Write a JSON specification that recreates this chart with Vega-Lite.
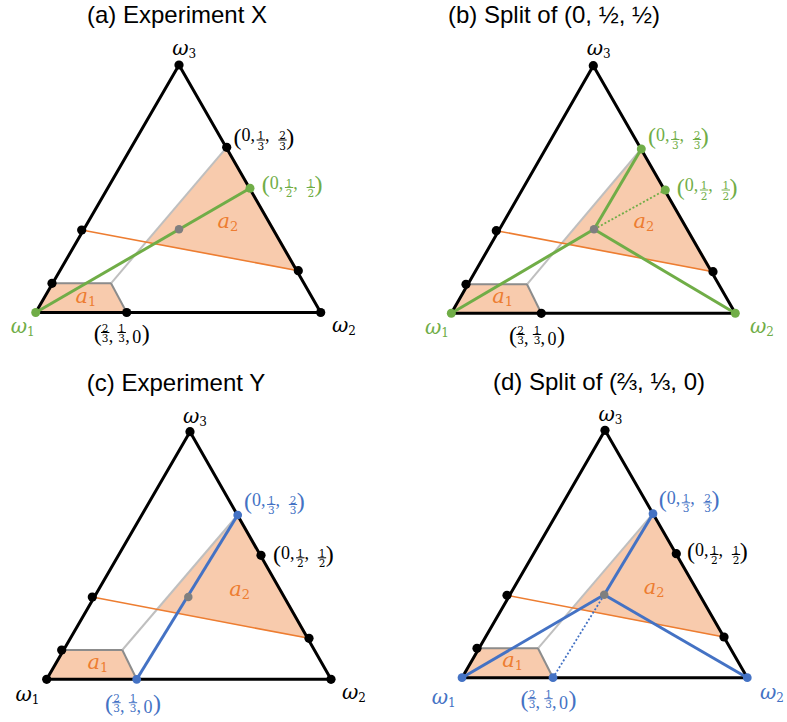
{
  "$schema": "https://vega.github.io/schema/vega-lite/v6.json",
  "width": 787,
  "height": 722,
  "autosize": {"type": "fit", "contains": "padding"},
  "padding": 0,
  "background": "white",
  "config": {"view": {"stroke": null}},
  "datasets": {
    "polys": [
      {"shape": "a1a", "i": 1, "x": 35.7, "y": 312.5},
      {"shape": "a1a", "i": 2, "x": 52.7, "y": 283.3},
      {"shape": "a1a", "i": 3, "x": 111, "y": 283.3},
      {"shape": "a1a", "i": 4, "x": 126.7, "y": 312.5},
      {"shape": "a2a", "i": 1, "x": 226.7, "y": 147.3},
      {"shape": "a2a", "i": 2, "x": 298.3, "y": 270.7},
      {"shape": "a2a", "i": 3, "x": 146.1, "y": 242.1},
      {"shape": "a1b", "i": 1, "x": 451.3, "y": 313.3},
      {"shape": "a1b", "i": 2, "x": 466.5, "y": 284.3},
      {"shape": "a1b", "i": 3, "x": 527, "y": 284.3},
      {"shape": "a1b", "i": 4, "x": 541.3, "y": 313.3},
      {"shape": "a2b", "i": 1, "x": 641.3, "y": 149},
      {"shape": "a2b", "i": 2, "x": 713, "y": 271.7},
      {"shape": "a2b", "i": 3, "x": 561.8, "y": 243.1},
      {"shape": "a1c", "i": 1, "x": 46.7, "y": 679.3},
      {"shape": "a1c", "i": 2, "x": 62.5, "y": 650},
      {"shape": "a1c", "i": 3, "x": 122.3, "y": 650},
      {"shape": "a1c", "i": 4, "x": 136.7, "y": 679.3},
      {"shape": "a2c", "i": 1, "x": 237.7, "y": 515},
      {"shape": "a2c", "i": 2, "x": 309, "y": 638.3},
      {"shape": "a2c", "i": 3, "x": 157.1, "y": 609.3},
      {"shape": "a1d", "i": 1, "x": 462, "y": 677.7},
      {"shape": "a1d", "i": 2, "x": 477.5, "y": 648.3},
      {"shape": "a1d", "i": 3, "x": 538, "y": 648.3},
      {"shape": "a1d", "i": 4, "x": 553, "y": 677.7},
      {"shape": "a2d", "i": 1, "x": 653, "y": 513.7},
      {"shape": "a2d", "i": 2, "x": 724, "y": 637},
      {"shape": "a2d", "i": 3, "x": 572.5, "y": 607.9}
    ],
    "segs": [
      {"kind": "gray2", "x": 52.7, "y": 283.3, "x2": 111, "y2": 283.3},
      {"kind": "gray2", "x": 111, "y": 283.3, "x2": 126.7, "y2": 312.5},
      {"kind": "gray1", "x": 111, "y": 283.3, "x2": 226.7, "y2": 147.3},
      {"kind": "orange", "x": 81.7, "y": 230, "x2": 298.3, "y2": 270.7},
      {"kind": "tri", "x": 35.7, "y": 312.5, "x2": 320.7, "y2": 312.5},
      {"kind": "tri", "x": 320.7, "y": 312.5, "x2": 179, "y2": 65},
      {"kind": "tri", "x": 179, "y": 65, "x2": 35.7, "y2": 312.5},
      {"kind": "green", "x": 35.7, "y": 312.5, "x2": 250, "y2": 188.3},

      {"kind": "gray2", "x": 466.5, "y": 284.3, "x2": 527, "y2": 284.3},
      {"kind": "gray2", "x": 527, "y": 284.3, "x2": 541.3, "y2": 313.3},
      {"kind": "gray1", "x": 527, "y": 284.3, "x2": 641.3, "y2": 149},
      {"kind": "orange", "x": 496.3, "y": 230.7, "x2": 713, "y2": 271.7},
      {"kind": "tri", "x": 451.3, "y": 313.3, "x2": 735.3, "y2": 313.3},
      {"kind": "tri", "x": 735.3, "y": 313.3, "x2": 593.3, "y2": 65.7},
      {"kind": "tri", "x": 593.3, "y": 65.7, "x2": 451.3, "y2": 313.3},
      {"kind": "green", "x": 451.3, "y": 313.3, "x2": 594, "y2": 229.3},
      {"kind": "green", "x": 735.3, "y": 313.3, "x2": 594, "y2": 229.3},
      {"kind": "green", "x": 594, "y": 229.3, "x2": 641.3, "y2": 149},
      {"kind": "greendot", "x": 594, "y": 229.3, "x2": 665.3, "y2": 190},

      {"kind": "gray2", "x": 62.5, "y": 650, "x2": 122.3, "y2": 650},
      {"kind": "gray2", "x": 122.3, "y": 650, "x2": 136.7, "y2": 679.3},
      {"kind": "gray1", "x": 122.3, "y": 650, "x2": 237.7, "y2": 515},
      {"kind": "orange", "x": 92.3, "y": 597, "x2": 309, "y2": 638.3},
      {"kind": "tri", "x": 46.7, "y": 679.3, "x2": 331, "y2": 679.3},
      {"kind": "tri", "x": 331, "y": 679.3, "x2": 190, "y2": 431.7},
      {"kind": "tri", "x": 190, "y": 431.7, "x2": 46.7, "y2": 679.3},
      {"kind": "blue", "x": 136.7, "y": 679.3, "x2": 237.7, "y2": 515},

      {"kind": "gray2", "x": 477.5, "y": 648.3, "x2": 538, "y2": 648.3},
      {"kind": "gray2", "x": 538, "y": 648.3, "x2": 553, "y2": 677.7},
      {"kind": "gray1", "x": 538, "y": 648.3, "x2": 653, "y2": 513.7},
      {"kind": "orange", "x": 507, "y": 595.3, "x2": 724, "y2": 637},
      {"kind": "tri", "x": 462, "y": 677.7, "x2": 747.3, "y2": 677.7},
      {"kind": "tri", "x": 747.3, "y": 677.7, "x2": 605, "y2": 430.3},
      {"kind": "tri", "x": 605, "y": 430.3, "x2": 462, "y2": 677.7},
      {"kind": "blue", "x": 462, "y": 677.7, "x2": 604.2, "y2": 594.8},
      {"kind": "blue", "x": 747.3, "y": 677.7, "x2": 604.2, "y2": 594.8},
      {"kind": "blue", "x": 604.2, "y": 594.8, "x2": 653, "y2": 513.7},
      {"kind": "bluedot", "x": 604.2, "y": 594.8, "x2": 553, "y2": 677.7}
    ],
    "bars": [
      {"col": "k", "x": 256.6, "x2": 265, "y": 140},
      {"col": "k", "x": 278.3, "x2": 286.7, "y": 140},
      {"col": "g", "x": 284.9, "x2": 293.3, "y": 187.5},
      {"col": "g", "x": 306.6, "x2": 315, "y": 187.5},
      {"col": "k", "x": 101, "x2": 109.4, "y": 332.5},
      {"col": "k", "x": 117.5, "x2": 125.9, "y": 332.5},
      {"col": "g", "x": 671.1, "x2": 679.5, "y": 139.5},
      {"col": "g", "x": 692.8, "x2": 701.2, "y": 139.5},
      {"col": "g", "x": 699.9, "x2": 708.3, "y": 190},
      {"col": "g", "x": 721.6, "x2": 730, "y": 190},
      {"col": "k", "x": 516.3, "x2": 524.7, "y": 334.5},
      {"col": "k", "x": 532.8, "x2": 541.2, "y": 334.5},
      {"col": "b", "x": 267.1, "x2": 275.5, "y": 504.5},
      {"col": "b", "x": 288.8, "x2": 297.2, "y": 504.5},
      {"col": "k", "x": 296.1, "x2": 304.5, "y": 557.8},
      {"col": "k", "x": 317.8, "x2": 326.2, "y": 557.8},
      {"col": "b", "x": 112.3, "x2": 120.7, "y": 702.7},
      {"col": "b", "x": 128.8, "x2": 137.2, "y": 702.7},
      {"col": "b", "x": 681.8, "x2": 690.2, "y": 502.8},
      {"col": "b", "x": 703.5, "x2": 711.9, "y": 502.8},
      {"col": "k", "x": 710.1, "x2": 718.5, "y": 554.5},
      {"col": "k", "x": 731.8, "x2": 740.2, "y": 554.5},
      {"col": "b", "x": 527.8, "x2": 536.2, "y": 698.7},
      {"col": "b", "x": 544.3, "x2": 552.7, "y": 698.7}
    ],
    "pts": [
      {"col": "k", "x": 179, "y": 65},
      {"col": "k", "x": 320.7, "y": 312.5},
      {"col": "g", "x": 35.7, "y": 312.5},
      {"col": "k", "x": 226.7, "y": 147.3},
      {"col": "g", "x": 250, "y": 188.3},
      {"col": "gr", "x": 179, "y": 229.3},
      {"col": "k", "x": 81.7, "y": 230},
      {"col": "k", "x": 298.3, "y": 270.7},
      {"col": "k", "x": 52, "y": 283.3},
      {"col": "k", "x": 126.7, "y": 312.5},

      {"col": "k", "x": 593.3, "y": 65.7},
      {"col": "g", "x": 451.3, "y": 313.3},
      {"col": "g", "x": 735.3, "y": 313.3},
      {"col": "g", "x": 641.3, "y": 149},
      {"col": "g", "x": 665.3, "y": 190},
      {"col": "gr", "x": 594, "y": 229.3},
      {"col": "k", "x": 496.3, "y": 230.7},
      {"col": "k", "x": 713, "y": 271.7},
      {"col": "k", "x": 466, "y": 284.3},
      {"col": "k", "x": 541.3, "y": 313.3},

      {"col": "k", "x": 190, "y": 431.7},
      {"col": "k", "x": 46.7, "y": 679.3},
      {"col": "k", "x": 331, "y": 679.3},
      {"col": "b", "x": 237.7, "y": 515},
      {"col": "k", "x": 261, "y": 555.3},
      {"col": "gr", "x": 188.3, "y": 597},
      {"col": "k", "x": 92.3, "y": 597},
      {"col": "k", "x": 309, "y": 638.3},
      {"col": "k", "x": 61.7, "y": 650},
      {"col": "b", "x": 136.7, "y": 679.3},

      {"col": "k", "x": 605, "y": 430.3},
      {"col": "b", "x": 462, "y": 677.7},
      {"col": "b", "x": 747.3, "y": 677.7},
      {"col": "b", "x": 653, "y": 513.7},
      {"col": "k", "x": 676.3, "y": 553.7},
      {"col": "gr", "x": 604.2, "y": 594.8},
      {"col": "k", "x": 507, "y": 595.3},
      {"col": "k", "x": 724, "y": 637},
      {"col": "k", "x": 477, "y": 648.3},
      {"col": "b", "x": 553, "y": 677.7}
    ],
    "labels": [
      {"kind": "title", "col": "k", "x": 177, "y": 22.5, "text": "(a) Experiment X"},
      {"kind": "title", "col": "k", "x": 554, "y": 22.5, "text": "(b) Split of (0, ½, ½)"},
      {"kind": "title", "col": "k", "x": 176, "y": 390.5, "text": "(c) Experiment Y"},
      {"kind": "title", "col": "k", "x": 599, "y": 389.5, "text": "(d) Split of (⅔, ⅓, 0)"},

      {"kind": "omega", "col": "k", "x": 188.5, "y": 54.5, "text": "ω"},
      {"kind": "osub", "col": "k", "x": 188.5, "y": 57.5, "text": "3"},
      {"kind": "omega", "col": "g", "x": 27, "y": 333, "text": "ω"},
      {"kind": "osub", "col": "g", "x": 27, "y": 336, "text": "1"},
      {"kind": "omega", "col": "k", "x": 348.3, "y": 331.7, "text": "ω"},
      {"kind": "osub", "col": "k", "x": 348.3, "y": 334.7, "text": "2"},
      {"kind": "omega", "col": "k", "x": 603, "y": 55, "text": "ω"},
      {"kind": "osub", "col": "k", "x": 603, "y": 58, "text": "3"},
      {"kind": "omega", "col": "g", "x": 441.3, "y": 334, "text": "ω"},
      {"kind": "osub", "col": "g", "x": 441.3, "y": 337, "text": "1"},
      {"kind": "omega", "col": "g", "x": 766.3, "y": 333, "text": "ω"},
      {"kind": "osub", "col": "g", "x": 766.3, "y": 336, "text": "2"},
      {"kind": "omega", "col": "k", "x": 199.3, "y": 422.7, "text": "ω"},
      {"kind": "osub", "col": "k", "x": 199.3, "y": 425.7, "text": "3"},
      {"kind": "omega", "col": "k", "x": 31.7, "y": 701, "text": "ω"},
      {"kind": "osub", "col": "k", "x": 31.7, "y": 704, "text": "1"},
      {"kind": "omega", "col": "k", "x": 358.3, "y": 699.3, "text": "ω"},
      {"kind": "osub", "col": "k", "x": 358.3, "y": 702.3, "text": "2"},
      {"kind": "omega", "col": "k", "x": 614.7, "y": 421, "text": "ω"},
      {"kind": "osub", "col": "k", "x": 614.7, "y": 424, "text": "3"},
      {"kind": "omega", "col": "b", "x": 448, "y": 704, "text": "ω"},
      {"kind": "osub", "col": "b", "x": 448, "y": 707, "text": "1"},
      {"kind": "omega", "col": "b", "x": 776.3, "y": 699, "text": "ω"},
      {"kind": "osub", "col": "b", "x": 776.3, "y": 702, "text": "2"},

      {"kind": "paren", "col": "k", "x": 237.5, "y": 144.5, "text": "("},
      {"kind": "mainL", "col": "k", "x": 241.5, "y": 141, "text": "0,"},
      {"kind": "frac", "col": "k", "x": 260.8, "y": 139, "text": "1\n3"},
      {"kind": "mainC", "col": "k", "x": 267.3, "y": 141, "text": ","},
      {"kind": "frac", "col": "k", "x": 282.5, "y": 139, "text": "2\n3"},
      {"kind": "paren", "col": "k", "x": 290.2, "y": 144.5, "text": ")"},

      {"kind": "paren", "col": "g", "x": 265.8, "y": 192, "text": "("},
      {"kind": "mainL", "col": "g", "x": 269.8, "y": 188.5, "text": "0,"},
      {"kind": "frac", "col": "g", "x": 289.1, "y": 186.5, "text": "1\n2"},
      {"kind": "mainC", "col": "g", "x": 295.6, "y": 188.5, "text": ","},
      {"kind": "frac", "col": "g", "x": 310.8, "y": 186.5, "text": "1\n2"},
      {"kind": "paren", "col": "g", "x": 318.5, "y": 192, "text": ")"},

      {"kind": "paren", "col": "k", "x": 97.7, "y": 340.5, "text": "("},
      {"kind": "frac", "col": "k", "x": 105.2, "y": 331.5, "text": "2\n3"},
      {"kind": "mainC", "col": "k", "x": 110.9, "y": 342, "text": ","},
      {"kind": "frac", "col": "k", "x": 121.7, "y": 331.5, "text": "1\n3"},
      {"kind": "mainC", "col": "k", "x": 127.5, "y": 342, "text": ","},
      {"kind": "mainC", "col": "k", "x": 136.7, "y": 342.5, "text": "0"},
      {"kind": "paren", "col": "k", "x": 145.8, "y": 340.5, "text": ")"},

      {"kind": "paren", "col": "g", "x": 652, "y": 144, "text": "("},
      {"kind": "mainL", "col": "g", "x": 656, "y": 140.5, "text": "0,"},
      {"kind": "frac", "col": "g", "x": 675.3, "y": 138.5, "text": "1\n3"},
      {"kind": "mainC", "col": "g", "x": 681.8, "y": 140.5, "text": ","},
      {"kind": "frac", "col": "g", "x": 697, "y": 138.5, "text": "2\n3"},
      {"kind": "paren", "col": "g", "x": 704.7, "y": 144, "text": ")"},

      {"kind": "paren", "col": "g", "x": 680.8, "y": 194.5, "text": "("},
      {"kind": "mainL", "col": "g", "x": 684.8, "y": 191, "text": "0,"},
      {"kind": "frac", "col": "g", "x": 704.1, "y": 189, "text": "1\n2"},
      {"kind": "mainC", "col": "g", "x": 710.6, "y": 191, "text": ","},
      {"kind": "frac", "col": "g", "x": 725.8, "y": 189, "text": "1\n2"},
      {"kind": "paren", "col": "g", "x": 733.5, "y": 194.5, "text": ")"},

      {"kind": "paren", "col": "k", "x": 513, "y": 342.5, "text": "("},
      {"kind": "frac", "col": "k", "x": 520.5, "y": 333.5, "text": "2\n3"},
      {"kind": "mainC", "col": "k", "x": 526.2, "y": 344, "text": ","},
      {"kind": "frac", "col": "k", "x": 537, "y": 333.5, "text": "1\n3"},
      {"kind": "mainC", "col": "k", "x": 542.8, "y": 344, "text": ","},
      {"kind": "mainC", "col": "k", "x": 552, "y": 344.5, "text": "0"},
      {"kind": "paren", "col": "k", "x": 561.1, "y": 342.5, "text": ")"},

      {"kind": "paren", "col": "b", "x": 248, "y": 509, "text": "("},
      {"kind": "mainL", "col": "b", "x": 252, "y": 505.5, "text": "0,"},
      {"kind": "frac", "col": "b", "x": 271.3, "y": 503.5, "text": "1\n3"},
      {"kind": "mainC", "col": "b", "x": 277.8, "y": 505.5, "text": ","},
      {"kind": "frac", "col": "b", "x": 293, "y": 503.5, "text": "2\n3"},
      {"kind": "paren", "col": "b", "x": 300.7, "y": 509, "text": ")"},

      {"kind": "paren", "col": "k", "x": 277, "y": 562.3, "text": "("},
      {"kind": "mainL", "col": "k", "x": 281, "y": 558.8, "text": "0,"},
      {"kind": "frac", "col": "k", "x": 300.3, "y": 556.8, "text": "1\n2"},
      {"kind": "mainC", "col": "k", "x": 306.8, "y": 558.8, "text": ","},
      {"kind": "frac", "col": "k", "x": 322, "y": 556.8, "text": "1\n2"},
      {"kind": "paren", "col": "k", "x": 329.7, "y": 562.3, "text": ")"},

      {"kind": "paren", "col": "b", "x": 109, "y": 710.7, "text": "("},
      {"kind": "frac", "col": "b", "x": 116.5, "y": 701.7, "text": "2\n3"},
      {"kind": "mainC", "col": "b", "x": 122.2, "y": 712.2, "text": ","},
      {"kind": "frac", "col": "b", "x": 133, "y": 701.7, "text": "1\n3"},
      {"kind": "mainC", "col": "b", "x": 138.8, "y": 712.2, "text": ","},
      {"kind": "mainC", "col": "b", "x": 148, "y": 712.7, "text": "0"},
      {"kind": "paren", "col": "b", "x": 157.1, "y": 710.7, "text": ")"},

      {"kind": "paren", "col": "b", "x": 662.7, "y": 507.3, "text": "("},
      {"kind": "mainL", "col": "b", "x": 666.7, "y": 503.8, "text": "0,"},
      {"kind": "frac", "col": "b", "x": 686, "y": 501.8, "text": "1\n3"},
      {"kind": "mainC", "col": "b", "x": 692.5, "y": 503.8, "text": ","},
      {"kind": "frac", "col": "b", "x": 707.7, "y": 501.8, "text": "2\n3"},
      {"kind": "paren", "col": "b", "x": 715.4, "y": 507.3, "text": ")"},

      {"kind": "paren", "col": "k", "x": 691, "y": 559, "text": "("},
      {"kind": "mainL", "col": "k", "x": 695, "y": 555.5, "text": "0,"},
      {"kind": "frac", "col": "k", "x": 714.3, "y": 553.5, "text": "1\n2"},
      {"kind": "mainC", "col": "k", "x": 720.8, "y": 555.5, "text": ","},
      {"kind": "frac", "col": "k", "x": 736, "y": 553.5, "text": "1\n2"},
      {"kind": "paren", "col": "k", "x": 743.7, "y": 559, "text": ")"},

      {"kind": "paren", "col": "b", "x": 524.5, "y": 706.7, "text": "("},
      {"kind": "frac", "col": "b", "x": 532, "y": 697.7, "text": "2\n3"},
      {"kind": "mainC", "col": "b", "x": 537.7, "y": 708.2, "text": ","},
      {"kind": "frac", "col": "b", "x": 548.5, "y": 697.7, "text": "1\n3"},
      {"kind": "mainC", "col": "b", "x": 554.3, "y": 708.2, "text": ","},
      {"kind": "mainC", "col": "b", "x": 563.5, "y": 708.7, "text": "0"},
      {"kind": "paren", "col": "b", "x": 572.6, "y": 706.7, "text": ")"},

      {"kind": "area", "col": "o", "x": 88, "y": 303, "text": "a"},
      {"kind": "asub", "col": "o", "x": 88, "y": 306, "text": "1"},
      {"kind": "area", "col": "o", "x": 230, "y": 228, "text": "a"},
      {"kind": "asub", "col": "o", "x": 230, "y": 231, "text": "2"},
      {"kind": "area", "col": "o", "x": 504.7, "y": 302.5, "text": "a"},
      {"kind": "asub", "col": "o", "x": 504.7, "y": 305.5, "text": "1"},
      {"kind": "area", "col": "o", "x": 646, "y": 228, "text": "a"},
      {"kind": "asub", "col": "o", "x": 646, "y": 231, "text": "2"},
      {"kind": "area", "col": "o", "x": 100, "y": 669, "text": "a"},
      {"kind": "asub", "col": "o", "x": 100, "y": 672, "text": "1"},
      {"kind": "area", "col": "o", "x": 241.7, "y": 596, "text": "a"},
      {"kind": "asub", "col": "o", "x": 241.7, "y": 599, "text": "2"},
      {"kind": "area", "col": "o", "x": 514.7, "y": 667, "text": "a"},
      {"kind": "asub", "col": "o", "x": 514.7, "y": 670, "text": "1"},
      {"kind": "area", "col": "o", "x": 656.3, "y": 594, "text": "a"},
      {"kind": "asub", "col": "o", "x": 656.3, "y": 597, "text": "2"}
    ]
  },
  "layer": [
    {
      "data": {"name": "polys"},
      "mark": {"type": "line", "fill": "#F8CBAD", "stroke": "#F8CBAD", "strokeWidth": 0.5},
      "encoding": {
        "x": {"field": "x", "type": "quantitative", "scale": {"domain": [0, 787], "nice": false, "zero": false}, "axis": null},
        "y": {"field": "y", "type": "quantitative", "scale": {"domain": [0, 722], "nice": false, "zero": false, "reverse": true}, "axis": null},
        "detail": {"field": "shape", "type": "nominal"},
        "order": {"field": "i", "type": "quantitative"}
      }
    },
    {
      "data": {"name": "segs"},
      "transform": [{"filter": "datum.kind === 'gray1'"}],
      "mark": {"type": "rule", "color": "#BFBFBF", "strokeWidth": 2},
      "encoding": {"x": {"field": "x", "type": "quantitative"}, "y": {"field": "y", "type": "quantitative"}, "x2": {"field": "x2"}, "y2": {"field": "y2"}}
    },
    {
      "data": {"name": "segs"},
      "transform": [{"filter": "datum.kind === 'gray2'"}],
      "mark": {"type": "rule", "color": "#8C8C8C", "strokeWidth": 2},
      "encoding": {"x": {"field": "x", "type": "quantitative"}, "y": {"field": "y", "type": "quantitative"}, "x2": {"field": "x2"}, "y2": {"field": "y2"}}
    },
    {
      "data": {"name": "segs"},
      "transform": [{"filter": "datum.kind === 'orange'"}],
      "mark": {"type": "rule", "color": "#ED7D31", "strokeWidth": 1.6},
      "encoding": {"x": {"field": "x", "type": "quantitative"}, "y": {"field": "y", "type": "quantitative"}, "x2": {"field": "x2"}, "y2": {"field": "y2"}}
    },
    {
      "data": {"name": "segs"},
      "transform": [{"filter": "datum.kind === 'tri'"}],
      "mark": {"type": "rule", "color": "#000000", "strokeWidth": 3, "strokeCap": "round"},
      "encoding": {"x": {"field": "x", "type": "quantitative"}, "y": {"field": "y", "type": "quantitative"}, "x2": {"field": "x2"}, "y2": {"field": "y2"}}
    },
    {
      "data": {"name": "segs"},
      "transform": [{"filter": "datum.kind === 'green'"}],
      "mark": {"type": "rule", "color": "#70AD47", "strokeWidth": 3},
      "encoding": {"x": {"field": "x", "type": "quantitative"}, "y": {"field": "y", "type": "quantitative"}, "x2": {"field": "x2"}, "y2": {"field": "y2"}}
    },
    {
      "data": {"name": "segs"},
      "transform": [{"filter": "datum.kind === 'greendot'"}],
      "mark": {"type": "rule", "color": "#70AD47", "strokeWidth": 1.8, "strokeDash": [2, 2]},
      "encoding": {"x": {"field": "x", "type": "quantitative"}, "y": {"field": "y", "type": "quantitative"}, "x2": {"field": "x2"}, "y2": {"field": "y2"}}
    },
    {
      "data": {"name": "segs"},
      "transform": [{"filter": "datum.kind === 'blue'"}],
      "mark": {"type": "rule", "color": "#4472C4", "strokeWidth": 3},
      "encoding": {"x": {"field": "x", "type": "quantitative"}, "y": {"field": "y", "type": "quantitative"}, "x2": {"field": "x2"}, "y2": {"field": "y2"}}
    },
    {
      "data": {"name": "segs"},
      "transform": [{"filter": "datum.kind === 'bluedot'"}],
      "mark": {"type": "rule", "color": "#4472C4", "strokeWidth": 1.8, "strokeDash": [2, 2]},
      "encoding": {"x": {"field": "x", "type": "quantitative"}, "y": {"field": "y", "type": "quantitative"}, "x2": {"field": "x2"}, "y2": {"field": "y2"}}
    },
    {
      "data": {"name": "pts"},
      "mark": {"type": "circle", "opacity": 1},
      "encoding": {
        "x": {"field": "x", "type": "quantitative"},
        "y": {"field": "y", "type": "quantitative"},
        "color": {"field": "col", "type": "nominal", "scale": {"domain": ["k", "g", "b", "o", "gr"], "range": ["#000000", "#70AD47", "#4472C4", "#ED7D31", "#7F7F7F"]}, "legend": null},
        "size": {"field": "col", "type": "nominal", "scale": {"domain": ["k", "g", "b", "gr"], "range": [85, 72, 72, 115]}, "legend": null}
      }
    },
    {
      "data": {"name": "bars"},
      "mark": {"type": "rule", "strokeWidth": 1},
      "encoding": {
        "x": {"field": "x", "type": "quantitative"},
        "x2": {"field": "x2"},
        "y": {"field": "y", "type": "quantitative"},
        "color": {"field": "col", "type": "nominal", "scale": {"domain": ["k", "g", "b", "o", "gr"], "range": ["#000000", "#70AD47", "#4472C4", "#ED7D31", "#7F7F7F"]}, "legend": null}
      }
    },
    {
      "data": {"name": "labels"},
      "transform": [{"filter": "datum.kind === 'title'"}],
      "mark": {"type": "text", "font": "Liberation Sans", "fontSize": 24, "align": "center", "baseline": "alphabetic"},
      "encoding": {
        "x": {"field": "x", "type": "quantitative"},
        "y": {"field": "y", "type": "quantitative"},
        "text": {"field": "text"},
        "color": {"field": "col", "type": "nominal", "scale": {"domain": ["k", "g", "b", "o", "gr"], "range": ["#000000", "#70AD47", "#4472C4", "#ED7D31", "#7F7F7F"]}, "legend": null}
      }
    },
    {
      "data": {"name": "labels"},
      "transform": [{"filter": "datum.kind === 'omega'"}],
      "mark": {"type": "text", "font": "DejaVu Serif", "fontStyle": "italic", "fontSize": 20, "align": "right", "baseline": "alphabetic"},
      "encoding": {
        "x": {"field": "x", "type": "quantitative"},
        "y": {"field": "y", "type": "quantitative"},
        "text": {"field": "text"},
        "color": {"field": "col", "type": "nominal", "scale": {"domain": ["k", "g", "b", "o", "gr"], "range": ["#000000", "#70AD47", "#4472C4", "#ED7D31", "#7F7F7F"]}, "legend": null}
      }
    },
    {
      "data": {"name": "labels"},
      "transform": [{"filter": "datum.kind === 'osub'"}],
      "mark": {"type": "text", "font": "DejaVu Serif", "fontSize": 12, "align": "left", "baseline": "alphabetic"},
      "encoding": {
        "x": {"field": "x", "type": "quantitative"},
        "y": {"field": "y", "type": "quantitative"},
        "text": {"field": "text"},
        "color": {"field": "col", "type": "nominal", "scale": {"domain": ["k", "g", "b", "o", "gr"], "range": ["#000000", "#70AD47", "#4472C4", "#ED7D31", "#7F7F7F"]}, "legend": null}
      }
    },
    {
      "data": {"name": "labels"},
      "transform": [{"filter": "datum.kind === 'paren'"}],
      "mark": {"type": "text", "font": "Liberation Serif", "fontSize": 24, "align": "center", "baseline": "alphabetic"},
      "encoding": {
        "x": {"field": "x", "type": "quantitative"},
        "y": {"field": "y", "type": "quantitative"},
        "text": {"field": "text"},
        "color": {"field": "col", "type": "nominal", "scale": {"domain": ["k", "g", "b", "o", "gr"], "range": ["#000000", "#70AD47", "#4472C4", "#ED7D31", "#7F7F7F"]}, "legend": null}
      }
    },
    {
      "data": {"name": "labels"},
      "transform": [{"filter": "datum.kind === 'mainL'"}],
      "mark": {"type": "text", "font": "Liberation Serif", "fontSize": 18, "align": "left", "baseline": "alphabetic"},
      "encoding": {
        "x": {"field": "x", "type": "quantitative"},
        "y": {"field": "y", "type": "quantitative"},
        "text": {"field": "text"},
        "color": {"field": "col", "type": "nominal", "scale": {"domain": ["k", "g", "b", "o", "gr"], "range": ["#000000", "#70AD47", "#4472C4", "#ED7D31", "#7F7F7F"]}, "legend": null}
      }
    },
    {
      "data": {"name": "labels"},
      "transform": [{"filter": "datum.kind === 'mainC'"}],
      "mark": {"type": "text", "font": "Liberation Serif", "fontSize": 18, "align": "center", "baseline": "alphabetic"},
      "encoding": {
        "x": {"field": "x", "type": "quantitative"},
        "y": {"field": "y", "type": "quantitative"},
        "text": {"field": "text"},
        "color": {"field": "col", "type": "nominal", "scale": {"domain": ["k", "g", "b", "o", "gr"], "range": ["#000000", "#70AD47", "#4472C4", "#ED7D31", "#7F7F7F"]}, "legend": null}
      }
    },
    {
      "data": {"name": "labels"},
      "transform": [{"filter": "datum.kind === 'frac'"}],
      "mark": {"type": "text", "font": "DejaVu Serif", "fontSize": 10.5, "lineHeight": 10.5, "lineBreak": "\n", "align": "center", "baseline": "alphabetic"},
      "encoding": {
        "x": {"field": "x", "type": "quantitative"},
        "y": {"field": "y", "type": "quantitative"},
        "text": {"field": "text"},
        "color": {"field": "col", "type": "nominal", "scale": {"domain": ["k", "g", "b", "o", "gr"], "range": ["#000000", "#70AD47", "#4472C4", "#ED7D31", "#7F7F7F"]}, "legend": null}
      }
    },
    {
      "data": {"name": "labels"},
      "transform": [{"filter": "datum.kind === 'area'"}],
      "mark": {"type": "text", "font": "DejaVu Serif", "fontStyle": "italic", "fontSize": 21, "align": "right", "baseline": "alphabetic"},
      "encoding": {
        "x": {"field": "x", "type": "quantitative"},
        "y": {"field": "y", "type": "quantitative"},
        "text": {"field": "text"},
        "color": {"field": "col", "type": "nominal", "scale": {"domain": ["k", "g", "b", "o", "gr"], "range": ["#000000", "#70AD47", "#4472C4", "#ED7D31", "#7F7F7F"]}, "legend": null}
      }
    },
    {
      "data": {"name": "labels"},
      "transform": [{"filter": "datum.kind === 'asub'"}],
      "mark": {"type": "text", "font": "DejaVu Serif", "fontSize": 13, "align": "left", "baseline": "alphabetic"},
      "encoding": {
        "x": {"field": "x", "type": "quantitative"},
        "y": {"field": "y", "type": "quantitative"},
        "text": {"field": "text"},
        "color": {"field": "col", "type": "nominal", "scale": {"domain": ["k", "g", "b", "o", "gr"], "range": ["#000000", "#70AD47", "#4472C4", "#ED7D31", "#7F7F7F"]}, "legend": null}
      }
    }
  ]
}
